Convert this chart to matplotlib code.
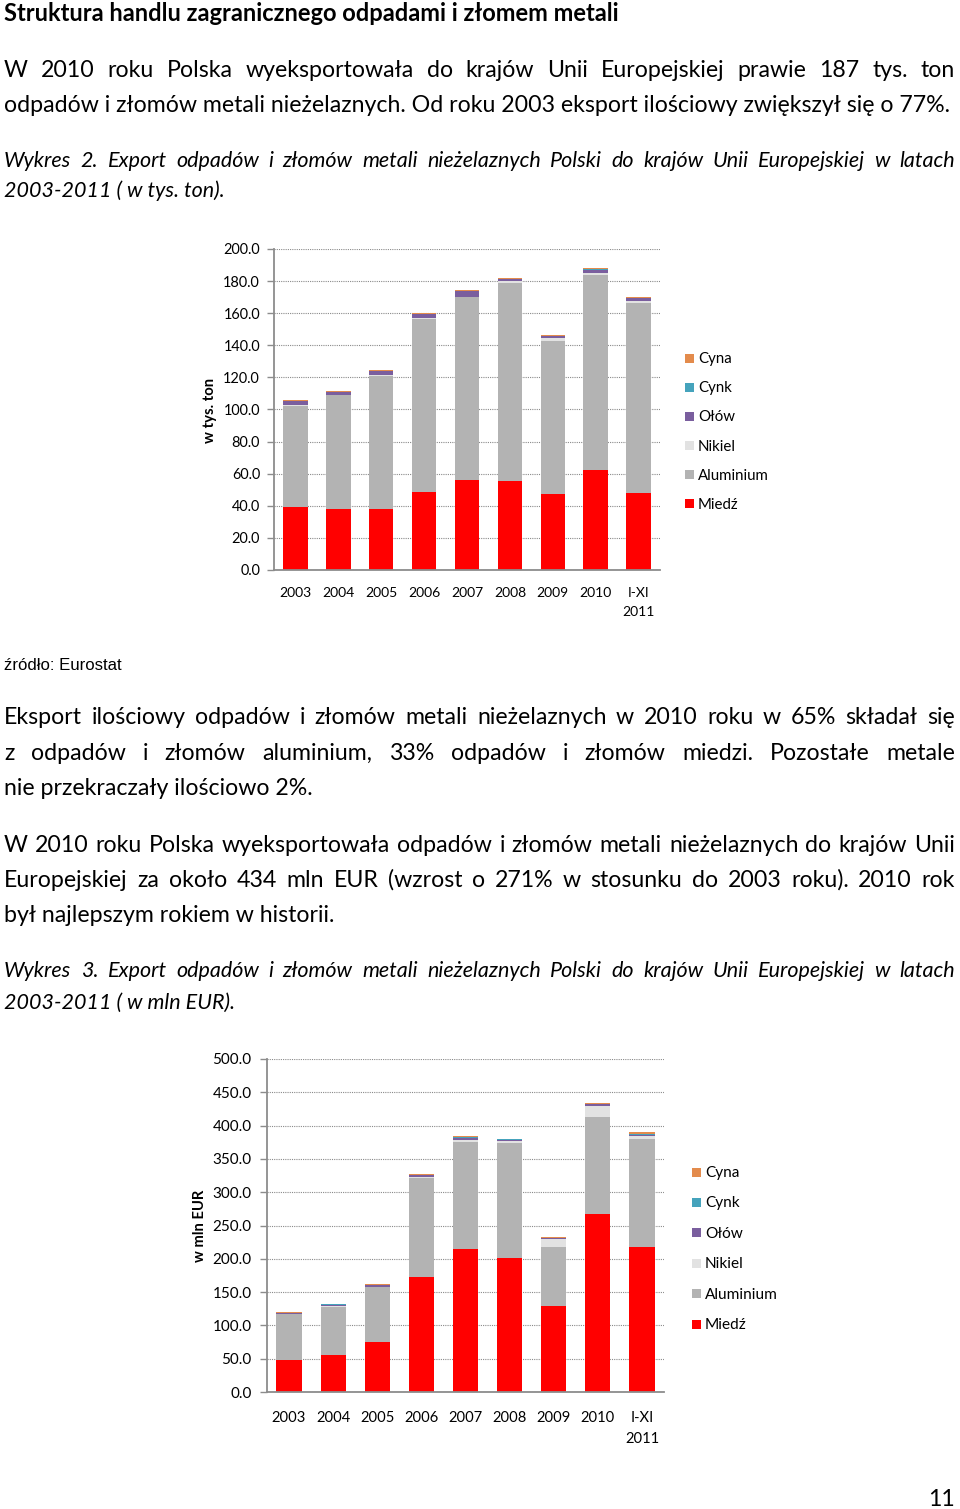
import matplotlib
matplotlib.use('Agg')
import matplotlib.pyplot as plt
from matplotlib.patches import Rectangle
import numpy as np

# ---------------- data ----------------
years = ['2003', '2004', '2005', '2006', '2007', '2008', '2009', '2010', 'I-XI\n2011']
series_names = ['Miedź', 'Aluminium', 'Nikiel', 'Ołów', 'Cynk', 'Cyna']

# Chart 1: export in thousand tonnes
miedz_t = [39.4, 38.0, 38.0, 48.6, 56.1, 55.5, 47.2, 62.3, 47.8]
aluminium_t = [63.0, 71.0, 83.0, 107.6, 113.8, 123.1, 95.7, 121.3, 118.7]
nikiel_t = [0.4, 0.3, 0.5, 0.5, 0.5, 1.2, 1.5, 1.5, 1.0]
olow_t = [2.5, 1.5, 2.4, 2.6, 3.2, 1.3, 1.2, 1.9, 1.7]
cynk_t = [0.3, 0.2, 0.3, 0.3, 0.3, 0.4, 0.4, 0.4, 0.3]
cyna_t = [0.4, 0.5, 0.4, 0.4, 0.5, 0.4, 0.4, 0.5, 0.4]

# Chart 2: export in mln EUR
miedz_e = [48.0, 55.5, 74.6, 172.5, 214.2, 200.7, 129.1, 266.8, 218.2]
aluminium_e = [68.6, 72.5, 82.6, 149.3, 161.6, 173.7, 88.6, 146.6, 161.7]
nikiel_e = [0.3, 0.6, 0.7, 1.0, 2.1, 3.0, 12.0, 16.5, 5.0]
olow_e = [1.5, 2.5, 2.3, 2.5, 4.0, 1.5, 1.0, 2.5, 1.5]
cynk_e = [0.2, 0.3, 0.3, 0.5, 0.5, 0.3, 0.5, 0.5, 1.5]
cyna_e = [1.0, 1.2, 1.2, 1.0, 2.0, 1.2, 2.0, 1.5, 2.0]

yticks_t = [0, 20, 40, 60, 80, 100, 120, 140, 160, 180, 200]
yticks_e = [0, 50, 100, 150, 200, 250, 300, 350, 400, 450, 500]

colors = {'Miedź': '#FF0000', 'Aluminium': '#B3B3B3', 'Nikiel': '#E2E2E2',
          'Ołów': '#7A5E9E', 'Cynk': '#45A3BC', 'Cyna': '#E38B4C'}

# ---------------- figure ----------------
W, H = 960, 1509
fig = plt.figure(figsize=(W / 100, H / 100), dpi=100)
fig.patch.set_facecolor('white')
renderer = fig.canvas.get_renderer()

BODY = ['Lato', 'DejaVu Sans']
ARIAL = ['Liberation Sans', 'DejaVu Sans']


def fx(x):
    return x / W


def fy(y):
    return 1 - y / H


def text_width(s, size, **kw):
    t = fig.text(0, 0, s, fontsize=size, **kw)
    w = t.get_window_extent(renderer).width
    t.remove()
    return w


def fit(s, target, **kw):
    return 20.0 * target / text_width(s, 20.0, **kw)


def line(y, s, size, x0=4, x1=955, justify=False, **kw):
    if not justify:
        fig.text(fx(x0), fy(y), s, fontsize=size, va='baseline', ha='left', **kw)
        return
    words = s.split(' ')
    ws = [text_width(w, size, **kw) for w in words]
    gap = (x1 - x0 - sum(ws)) / (len(words) - 1)
    x = x0
    for w, wd in zip(words, ws):
        fig.text(fx(x), fy(y), w, fontsize=size, va='baseline', ha='left', **kw)
        x += wd + gap


# font sizes fitted to the reference widths
body_size = np.mean([
    fit('odpadów i złomów metali nieżelaznych. Od roku 2003 eksport ilościowy zwiększył się o 77%.', 944, family=BODY),
    fit('nie przekraczały ilościowo 2%.', 308, family=BODY),
    fit('był najlepszym rokiem w historii.', 334, family=BODY),
])
ital_kw = dict(family=BODY, style='italic')
ital_size = np.mean([
    fit('2003-2011 ( w tys. ton).', 221, **ital_kw),
    fit('2003-2011 ( w mln EUR).', 231, **ital_kw),
])
title_size = fit('Struktura handlu zagranicznego odpadami i złomem metali', 614, family=BODY, weight='bold')
src_size = fit('źródło: Eurostat', 117, family=ARIAL)

# ---------------- texts ----------------
line(21, 'Struktura handlu zagranicznego odpadami i złomem metali', title_size, family=BODY, weight='bold')
line(77, 'W 2010 roku Polska wyeksportowała do krajów Unii Europejskiej prawie 187 tys. ton',
     body_size, justify=True, family=BODY)
line(112, 'odpadów i złomów metali nieżelaznych. Od roku 2003 eksport ilościowy zwiększył się o 77%.',
     body_size, family=BODY)
line(167, 'Wykres 2. Export odpadów i złomów metali nieżelaznych Polski do krajów Unii Europejskiej w latach',
     ital_size, justify=True, **ital_kw)
line(197, '2003-2011 ( w tys. ton).', ital_size, **ital_kw)
line(670, 'źródło: Eurostat', src_size, family=ARIAL)
line(724, 'Eksport ilościowy odpadów i złomów metali nieżelaznych w 2010 roku w 65% składał się',
     body_size, justify=True, family=BODY)
line(760, 'z odpadów i złomów aluminium, 33% odpadów i złomów miedzi. Pozostałe metale',
     body_size, justify=True, family=BODY)
line(795, 'nie przekraczały ilościowo 2%.', body_size, family=BODY)
line(852, 'W 2010 roku Polska wyeksportowała odpadów i złomów metali nieżelaznych do krajów Unii',
     body_size, justify=True, family=BODY)
line(887, 'Europejskiej za około 434 mln EUR (wzrost o 271% w stosunku do 2003 roku). 2010 rok',
     body_size, justify=True, family=BODY)
line(922, 'był najlepszym rokiem w historii.', body_size, family=BODY)
line(977, 'Wykres 3. Export odpadów i złomów metali nieżelaznych Polski do krajów Unii Europejskiej w latach',
     ital_size, justify=True, **ital_kw)
line(1009, '2003-2011 ( w mln EUR).', ital_size, **ital_kw)
fig.text(fx(955), fy(1506), '11', fontsize=body_size, ha='right', va='baseline', family=BODY)


# ---------------- charts ----------------
def chart(rect, data, ymax, yticks, tick_size, xtick_size, xpad, ypad, ylabel, ylabel_xy, ylabel_size,
          legend_x, legend_y0, legend_dy, legend_size):
    left, bottom, right, top = rect
    ax = fig.add_axes([fx(left), fy(bottom), (right - left) / W, (bottom - top) / H])
    x = np.arange(len(years))
    cum = np.zeros(len(years))
    for name in series_names:
        vals = np.array(data[name])
        ax.bar(x, vals, width=0.57, bottom=cum, color=colors[name], linewidth=0, zorder=3)
        cum += vals
    ax.set_xlim(-0.5, len(years) - 0.5)
    ax.set_ylim(0, ymax)
    ax.set_yticks(yticks)
    ax.set_yticklabels([f'{v:.1f}' for v in yticks], family=BODY, fontsize=tick_size)
    ax.set_xticks(x)
    labs = ax.set_xticklabels(years, family=BODY, fontsize=xtick_size)
    for lb in labs:
        lb.set_linespacing(1.7)
    ax.yaxis.grid(True, linestyle=(0, (1, 1)), color='#8a8a8a', linewidth=0.8, zorder=0)
    ax.set_axisbelow(True)
    for s in ['top', 'right']:
        ax.spines[s].set_visible(False)
    for s in ['left', 'bottom']:
        ax.spines[s].set_color('#8c8c8c')
        ax.spines[s].set_linewidth(1.3)
        ax.spines[s].set_zorder(4)
    ax.tick_params(axis='y', length=5, width=1, color='#8c8c8c', pad=ypad, labelcolor='#000000')
    ax.tick_params(axis='x', length=0, pad=xpad, labelcolor='#000000')
    fig.text(fx(ylabel_xy[0]), fy(ylabel_xy[1]), ylabel, rotation=90, ha='center', va='center',
             fontsize=ylabel_size, weight='bold', family=BODY)
    # legend (top to bottom: reverse stacking order)
    for i, name in enumerate(series_names[::-1]):
        yc = legend_y0 + i * legend_dy
        fig.patches.append(Rectangle((fx(legend_x), fy(yc + 4.5)), 9 / W, 9 / H,
                                     transform=fig.transFigure, facecolor=colors[name],
                                     edgecolor='none'))
        fig.text(fx(legend_x + 13), fy(yc + 1), name, ha='left', va='center',
                 fontsize=legend_size, family=BODY)
    return ax


data_t = {'Miedź': miedz_t, 'Aluminium': aluminium_t, 'Nikiel': nikiel_t,
          'Ołów': olow_t, 'Cynk': cynk_t, 'Cyna': cyna_t}
data_e = {'Miedź': miedz_e, 'Aluminium': aluminium_e, 'Nikiel': nikiel_e,
          'Ołów': olow_e, 'Cynk': cynk_e, 'Cyna': cyna_e}

chart((274, 570, 660, 249), data_t, 200, yticks_t,
      tick_size=fit('200.0', 37, family=BODY),
      xtick_size=fit('2003', 32, family=BODY), xpad=12.5, ypad=5,
      ylabel='w tys. ton', ylabel_xy=(210, 410),
      ylabel_size=fit('w tys. ton', 65, family=BODY, weight='bold'),
      legend_x=685, legend_y0=358, legend_dy=29.2,
      legend_size=fit('Aluminium', 71, family=BODY))

chart((267, 1392, 664, 1059), data_e, 500, yticks_e,
      tick_size=fit('500.0', 39, family=BODY),
      xtick_size=fit('2003', 34, family=BODY), xpad=13.5, ypad=6,
      ylabel='w mln EUR', ylabel_xy=(200, 1226),
      ylabel_size=fit('w mln EUR', 72, family=BODY, weight='bold'),
      legend_x=692, legend_y0=1172, legend_dy=30.4,
      legend_size=fit('Aluminium', 73, family=BODY))

fig.savefig('out.png', dpi=100, facecolor='white')
